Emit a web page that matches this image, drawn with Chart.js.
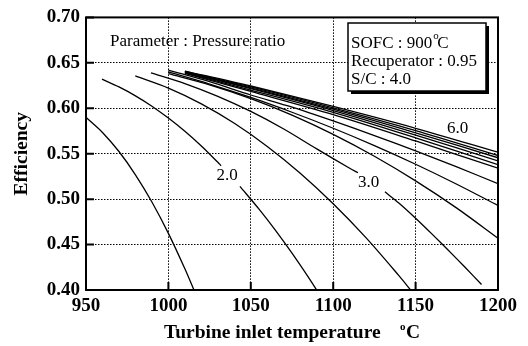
<!DOCTYPE html>
<html>
<head>
<meta charset="utf-8">
<script src="https://cdn.jsdelivr.net/npm/chart.js@4.4.1/dist/chart.umd.min.js"></script>
<style>
  html, body { margin: 0; padding: 0; background: #fff; }
  #wrap { width: 528px; height: 346px; }
</style>
</head>
<body>
<div id="wrap"><canvas id="chart" width="528" height="346"></canvas></div>
<script>
// turbine inlet temperature (degC) / efficiency, one pair of arrays per curve
const pr15T = [950, 960, 970, 980, 990, 1000, 1010, 1015.5];
const pr15E = [0.590, 0.5734, 0.5524, 0.5268, 0.4968, 0.4623, 0.4233, 0.400];
// 2.0 and 3.0 have a gap where their labels sit
const pr20T = [959.7, 970, 980, 990, 1000, 1010, 1020, 1030, 1032, 1038, 1043.4, 1055, 1065, 1075, 1085, 1090];
const pr20E = [0.632, 0.6235, 0.6137, 0.6023, 0.5892, 0.5746, 0.5584, 0.5405, 0.5368, null, 0.5141, 0.489, 0.4656, 0.4405, 0.4139, 0.400];
const pr25T = [979.9, 1000, 1020, 1040, 1060, 1080, 1100, 1120, 1140, 1147];
const pr25E = [0.6356, 0.6222, 0.6049, 0.5835, 0.558, 0.5285, 0.4949, 0.4573, 0.4155, 0.400];
const pr30T = [989.4, 1010, 1030, 1050, 1070, 1090, 1110, 1115, 1123, 1131.4, 1140, 1150, 1160, 1170, 1180, 1190];
const pr30E = [0.639, 0.6272, 0.6131, 0.5965, 0.5772, 0.5553, 0.534, 0.529, null, 0.508, 0.4955, 0.479, 0.4615, 0.4435, 0.425, 0.406];
const pr35T = [1000, 1025, 1050, 1075, 1100, 1125, 1150, 1175, 1200];
const pr35E = [0.638, 0.6258, 0.6106, 0.5925, 0.5713, 0.5472, 0.5201, 0.4901, 0.457];
const pr40T = [1000, 1025, 1050, 1075, 1100, 1125, 1150, 1175, 1200];
const pr40E = [0.640, 0.6267, 0.6119, 0.5956, 0.578, 0.5589, 0.5384, 0.5164, 0.493];
const pr45T = [1000, 1025, 1050, 1075, 1100, 1125, 1150, 1175, 1200];
const pr45E = [0.642, 0.6292, 0.6146, 0.6012, 0.586, 0.570, 0.5531, 0.5355, 0.517];
const top1T = [1010, 1050, 1100, 1150, 1200];
const top1E = [0.6385, 0.6185, 0.593, 0.564, 0.534];
const top2T = [1010, 1050, 1100, 1150, 1200];
const top2E = [0.639, 0.620, 0.5955, 0.5675, 0.538];
const top3T = [1010, 1050, 1100, 1150, 1200];
const top3E = [0.6395, 0.6215, 0.5975, 0.5705, 0.542];
const top4T = [1010, 1050, 1100, 1150, 1200];
const top4E = [0.640, 0.6225, 0.599, 0.573, 0.5455];
const top5T = [1010, 1050, 1100, 1150, 1200];
const top5E = [0.6405, 0.6235, 0.6005, 0.5755, 0.548];
const top6T = [1010, 1050, 1100, 1150, 1200];
const top6E = [0.641, 0.6245, 0.602, 0.578, 0.5516];

const xTicks = [950, 1000, 1050, 1100, 1150, 1200];
const yTicks = [0.40, 0.45, 0.50, 0.55, 0.60, 0.65, 0.70];

const curves = [
  [pr15T, pr15E], [pr20T, pr20E], [pr25T, pr25E], [pr30T, pr30E],
  [pr35T, pr35E], [pr40T, pr40E], [pr45T, pr45E], [top1T, top1E],
  [top2T, top2E], [top3T, top3E], [top4T, top4E], [top5T, top5E], [top6T, top6E]
];

const serif = "'Liberation Serif', 'Times New Roman', serif";

// frame, inner ticks, titles and the text notes
const decor = {
  id: "decor",
  afterDraw(chart) {
    const ctx = chart.ctx;
    const a = chart.chartArea;
    const xs = chart.scales.x, ys = chart.scales.y;
    ctx.save();
    ctx.strokeStyle = "#000";
    ctx.lineWidth = 2;
    ctx.strokeRect(a.left, a.top, a.right - a.left, a.bottom - a.top);
    ctx.beginPath();
    xTicks.forEach(function (v) {
      const px = xs.getPixelForValue(v);
      ctx.moveTo(px, a.bottom); ctx.lineTo(px, a.bottom - 8);
    });
    yTicks.forEach(function (v) {
      const py = ys.getPixelForValue(v);
      ctx.moveTo(a.left, py); ctx.lineTo(a.left + 8, py);
    });
    ctx.stroke();

    ctx.fillStyle = "#000";
    ctx.textBaseline = "alphabetic";
    // y title
    ctx.save();
    ctx.translate(27, (a.top + a.bottom) / 2);
    ctx.rotate(-Math.PI / 2);
    ctx.font = "bold 19.5px " + serif;
    ctx.textAlign = "center";
    ctx.fillText("Efficiency", 0, 0);
    ctx.restore();

    // x title
    ctx.font = "bold 19.5px " + serif;
    ctx.textAlign = "left";
    ctx.fillText("Turbine inlet temperature", 164, 338);
    ctx.font = "bold 11px " + serif;
    ctx.fillText("o", 400, 330);
    ctx.font = "bold 19.5px " + serif;
    ctx.fillText("C", 406, 338);

    ctx.font = "17px " + serif;
    ctx.fillText("Parameter : Pressure ratio", 110, 46);

    // condition box with shadow
    const bx = 348, by = 23, bw = 138, bh = 68;
    ctx.fillRect(bx + 3, by + 3, bw, bh);
    ctx.fillStyle = "#fff";
    ctx.fillRect(bx, by, bw, bh);
    ctx.lineWidth = 1.5;
    ctx.strokeRect(bx, by, bw, bh);
    ctx.fillStyle = "#000";
    ctx.font = "17px " + serif;
    ctx.fillText("SOFC : 900", 351, 48);
    const w1 = ctx.measureText("SOFC : 900").width;
    ctx.font = "11px " + serif;
    ctx.fillText("o", 351 + w1 + 1, 39);
    ctx.font = "17px " + serif;
    ctx.fillText("C", 351 + w1 + 5, 48);
    ctx.fillText("Recuperator : 0.95", 351, 66);
    ctx.fillText("S/C : 4.0", 351, 84);

    ctx.textAlign = "center";
    ctx.fillText("2.0", 227, 180);
    ctx.fillText("3.0", 368.5, 187);
    ctx.fillText("6.0", 457.5, 133);
    ctx.restore();
  }
};

new Chart(document.getElementById("chart"), {
  type: "line",
  data: {
    datasets: curves.map(function (c) {
      return {
        data: c[0].map(function (t, i) { return { x: t, y: c[1][i] }; }),
        borderColor: "#000",
        borderWidth: 1.3,
        pointRadius: 0,
        tension: 0.3,
        spanGaps: false,
        fill: false,
      };
    }),
  },
  plugins: [decor],
  options: {
    responsive: false,
    animation: false,
    events: [],
    layout: { padding: { top: 15, right: 30, left: 0, bottom: 0 } },
    plugins: {
      legend: { display: false },
      tooltip: { enabled: false },
    },
    scales: {
      x: {
        type: "linear",
        min: 950,
        max: 1200,
        afterFit: function (scale) { scale.height = 56; },
        afterBuildTicks: function (scale) {
          scale.ticks = xTicks.map(function (v) { return { value: v }; });
        },
        ticks: {
          color: "#000",
          padding: 5,
          font: { family: serif, size: 19, weight: "bold" },
          maxRotation: 0,
          callback: function (v) { return String(v); },
        },
        grid: { color: "#000", lineWidth: 1, drawTicks: false },
        border: { display: false, dash: [1.5, 1.5] },
      },
      y: {
        type: "linear",
        min: 0.40,
        max: 0.70,
        afterFit: function (scale) { scale.width = 86; },
        afterBuildTicks: function (scale) {
          scale.ticks = yTicks.map(function (v) { return { value: v }; });
        },
        ticks: {
          color: "#000",
          padding: 6,
          font: { family: serif, size: 19, weight: "bold" },
          callback: function (v) { return v.toFixed(2); },
        },
        grid: { color: "#000", lineWidth: 1, drawTicks: false },
        border: { display: false, dash: [1.5, 1.5] },
      },
    },
  },
});
</script>
</body>
</html>
